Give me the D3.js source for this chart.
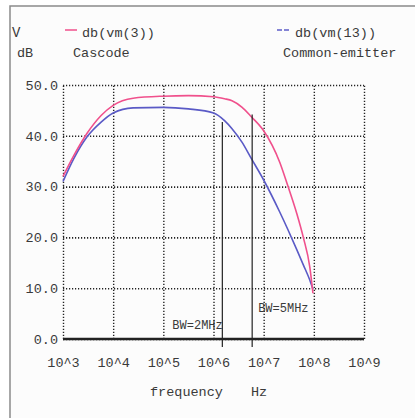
<!DOCTYPE html>
<html>
<head>
<meta charset="utf-8">
<script src="https://cdn.jsdelivr.net/npm/d3@7"></script>
<style>
  body { margin: 0; background: #fff; }
  text { font-family: "Liberation Mono", "DejaVu Sans Mono", monospace; fill: #3a3a3a; }
</style>
</head>
<body>
<div id="chart"></div>
<script>
// frequencies (Hz) for the sampled points
const freqs = [1e3, 1.66e3, 3.02e3, 5.75e3, 1e4, 2.5e4, 1e5, 3.16e5, 1e6, 1.66e6,
               2.34e6, 3.72e6, 5.62e6, 1e7, 2.09e7, 3.02e7, 4.57e7, 6.17e7, 8.3e7, 9.6e7]
const cascode = [32.0, 36.2, 40.5, 44.0, 46.0, 47.4, 47.8, 47.9, 47.7, 47.3,
                 46.9, 45.6, 43.8, 41.0, 34.8, 30.2, 24.7, 20.0, 14.2, 9.0]
const commonEmitter = [31.0, 35.6, 39.8, 42.7, 44.5, 45.5, 45.6, 45.3, 44.5, 43.0,
                       41.4, 38.7, 35.6, 31.3, 25.0, 21.6, 17.6, 14.6, 11.6, 9.8]
const yTicks = [0, 10, 20, 30, 40, 50]
const xTicks = [1e3, 1e4, 1e5, 1e6, 1e7, 1e8, 1e9]
const bwFreqs = [1.5e6, 5.9e6]
const bwTops = [42.7, 44.2]
const bwLabels = ["BW=2MHz", "BW=5MHz"]

const W = 415, H = 418
const margin = {left: 63, right: 51, top: 85, bottom: 79}

const x = d3.scaleLog().domain([1e3, 1e9]).range([margin.left, W - margin.right])
const y = d3.scaleLinear().domain([0, 50]).range([H - margin.bottom, margin.top])

const svg = d3.select("#chart").append("svg")
  .attr("width", W)
  .attr("height", H)

// outer frame
svg.append("rect")
  .attr("x", 10).attr("y", 6)
  .attr("width", W + 20).attr("height", H + 20)
  .attr("fill", "#fcfcfc")
  .attr("stroke", "#8a8a8a")
  .attr("stroke-width", 1.5)

// legend
svg.append("text").attr("x", 12).attr("y", 37).attr("font-size", 14).text("V")
svg.append("text").attr("x", 17).attr("y", 57).attr("font-size", 13.5).text("dB")

svg.append("line")
  .attr("x1", 65).attr("x2", 77).attr("y1", 30).attr("y2", 30)
  .attr("stroke", "#f0508c").attr("stroke-width", 1.5)
svg.append("text").attr("x", 82).attr("y", 37).attr("font-size", 13.5).text("db(vm(3))")
svg.append("text").attr("x", 73).attr("y", 57).attr("font-size", 13.5).text("Cascode")

svg.append("line")
  .attr("x1", 277).attr("x2", 291).attr("y1", 30).attr("y2", 30)
  .attr("stroke", "#5c5cc8").attr("stroke-width", 1.5)
  .attr("stroke-dasharray", "5,2")
svg.append("text").attr("x", 295).attr("y", 37).attr("font-size", 13.5).text("db(vm(13))")
svg.append("text").attr("x", 283).attr("y", 57).attr("font-size", 13.5).text("Common-emitter")

// grid: y
const yAxis = d3.axisLeft(y)
  .tickValues(yTicks)
  .tickSize(-(W - margin.left - margin.right))
  .tickPadding(5)
  .tickFormat(d3.format(".1f"))

const gy = svg.append("g")
  .attr("transform", "translate(" + margin.left + ",0)")
  .call(yAxis)
gy.select(".domain").remove()
gy.selectAll(".tick line")
  .attr("stroke", "#222").attr("stroke-width", 1.6)
  .attr("stroke-dasharray", "1.2,1.8")
gy.selectAll(".tick text")
  .attr("font-size", 13.5)
  .attr("font-family", null)
  .attr("fill", null)

// grid: x
const xAxis = d3.axisBottom(x)
  .tickValues(xTicks)
  .tickSize(-(y(0) - y(50)))
  .tickPadding(18)
  .tickFormat(d => "10^" + Math.round(Math.log10(d)))

const gx = svg.append("g")
  .attr("transform", "translate(0," + y(0) + ")")
  .call(xAxis)
gx.select(".domain").remove()
gx.selectAll(".tick line")
  .attr("stroke", "#222").attr("stroke-width", 1.4)
  .attr("stroke-dasharray", "1.2,1.8")
gx.selectAll(".tick text")
  .attr("font-size", 13.5)
  .attr("font-family", null)
  .attr("fill", null)

// bottom axis line
svg.append("line")
  .attr("x1", x(1e3)).attr("x2", x(1e9))
  .attr("y1", y(0)).attr("y2", y(0))
  .attr("stroke", "#222").attr("stroke-width", 2.5)

// axis title
svg.append("text").attr("x", 150).attr("y", 396).attr("font-size", 13.5).text("frequency")
svg.append("text").attr("x", 251).attr("y", 396).attr("font-size", 13.5).text("Hz")

// curves
const line = d3.line()
  .curve(d3.curveMonotoneX)
  .x(d => x(d[0]))
  .y(d => y(d[1]))

svg.append("path")
  .datum(freqs.map((f, i) => [f, commonEmitter[i]]))
  .attr("d", line)
  .attr("fill", "none")
  .attr("stroke", "#5a5ac6")
  .attr("stroke-width", 1.6)

svg.append("path")
  .datum(freqs.map((f, i) => [f, cascode[i]]))
  .attr("d", line)
  .attr("fill", "none")
  .attr("stroke", "#f0508c")
  .attr("stroke-width", 1.6)

// bandwidth markers
bwFreqs.forEach((f, i) => {
  svg.append("line")
    .attr("x1", x(f)).attr("x2", x(f))
    .attr("y1", y(bwTops[i])).attr("y2", y(0) + 8)
    .attr("stroke", "#222").attr("stroke-width", 1.2)
})
svg.append("text").attr("x", x(bwFreqs[0]) - 50).attr("y", 329)
  .attr("font-size", 12).text(bwLabels[0])
svg.append("text").attr("x", x(bwFreqs[1]) + 6).attr("y", 312)
  .attr("font-size", 12).text(bwLabels[1])
</script>
</body>
</html>
